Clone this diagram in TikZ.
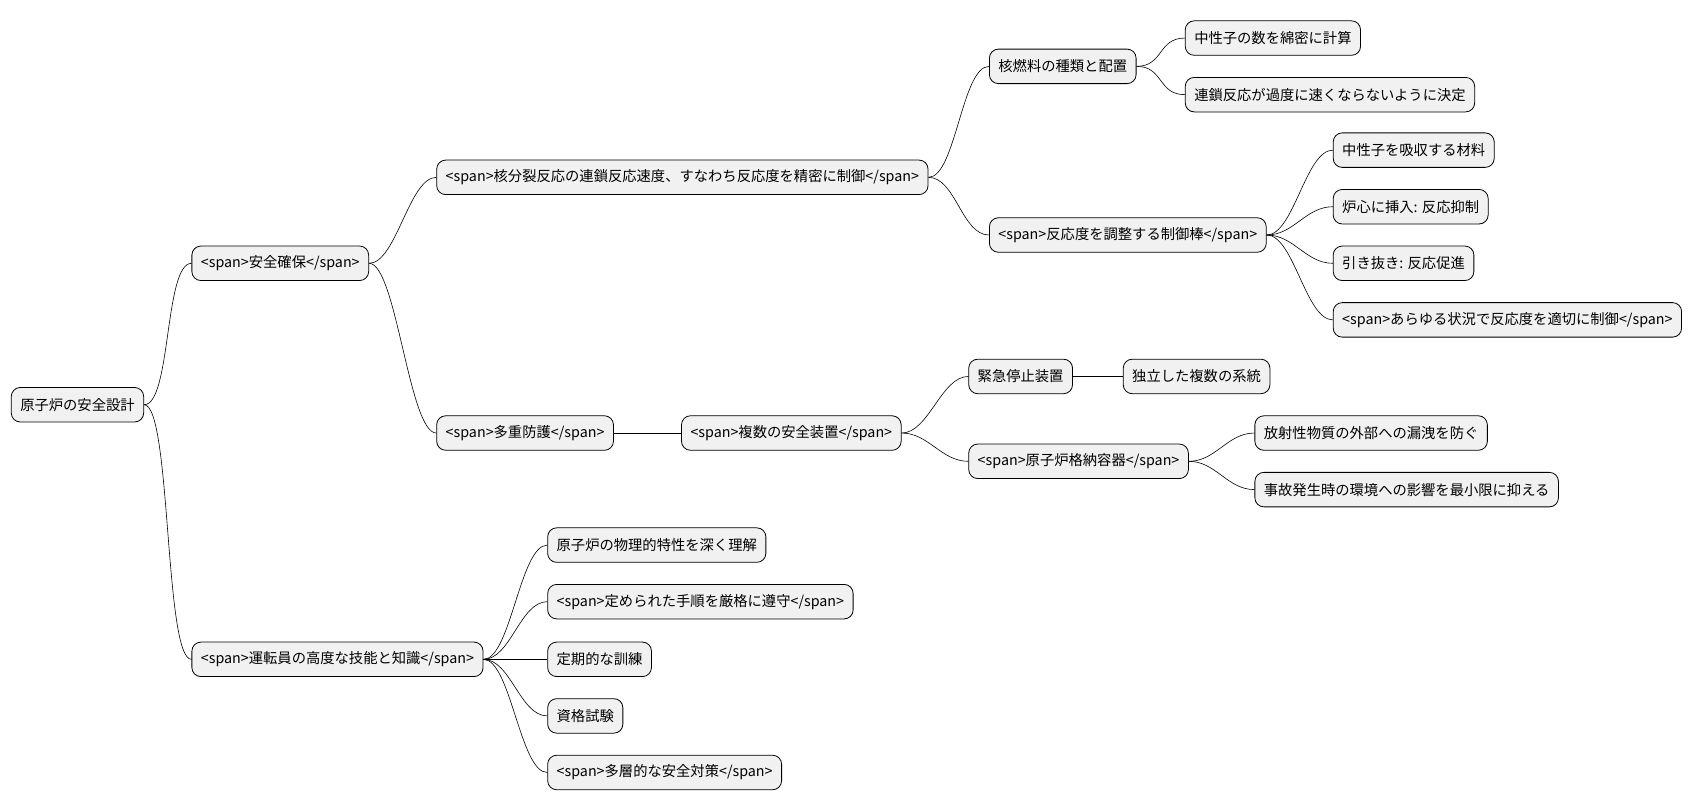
\documentclass[tikz,border=0pt]{standalone}
\usepackage{fontspec}
\setmainfont{Noto Sans CJK JP}
\begin{document}
\begin{tikzpicture}[x=1.088pt,y=-1.088pt,
  box/.style={draw,rounded corners=9pt,fill={rgb,255:red,241;green,241;blue,241},minimum height=34.5pt,inner xsep=9pt,anchor=west,font=\fontsize{14.3}{17}\selectfont,line width=0.8pt},
  ln/.style={line width=0.6pt}]
\useasboundingbox[fill=white] (0,0) rectangle (1568,743.6);
\node[box] (r) at (10,372) {原子炉の安全設計};
\node[box] (a) at (176,242) {<span>安全確保</span>};
\node[box] (b) at (176,606) {<span>運転員の高度な技能と知識</span>};
\node[box] (a1) at (401,163) {<span>核分裂反応の連鎖反応速度、すなわち反応度を精密に制御</span>};
\node[box] (a2) at (401,398) {<span>多重防護</span>};
\node[box] (a21) at (626,398) {<span>複数の安全装置</span>};
\node[box] (a11) at (909,61) {核燃料の種類と配置};
\node[box] (a12) at (909,216) {<span>反応度を調整する制御棒</span>};
\node[box] (a211) at (890,346) {緊急停止装置};
\node[box] (a212) at (890,424) {<span>原子炉格納容器</span>};
\node[box] (a2111) at (1032,346) {独立した複数の系統};
\node[box] (a111) at (1089,35) {中性子の数を綿密に計算};
\node[box] (a112) at (1089,87) {連鎖反応が過度に速くならないように決定};
\node[box] (a121) at (1225,138) {中性子を吸収する材料};
\node[box] (a122) at (1225,190) {炉心に挿入: 反応抑制};
\node[box] (a123) at (1225,242) {引き抜き: 反応促進};
\node[box] (a124) at (1225,294) {<span>あらゆる状況で反応度を適切に制御</span>};
\node[box] (a2121) at (1153,398) {放射性物質の外部への漏洩を防ぐ};
\node[box] (a2122) at (1153,450) {事故発生時の環境への影響を最小限に抑える};
\node[box] (b1) at (503,501) {原子炉の物理的特性を深く理解};
\node[box] (b2) at (503,553) {<span>定められた手順を厳格に遵守</span>};
\node[box] (b3) at (503,606) {定期的な訓練};
\node[box] (b4) at (503,658) {資格試験};
\node[box] (b5) at (503,710) {<span>多層的な安全対策</span>};
\foreach \p/\c in {r/a,r/b,a/a1,a/a2,a2/a21,a1/a11,a1/a12,a21/a211,a21/a212,a211/a2111,a11/a111,a11/a112,a12/a121,a12/a122,a12/a123,a12/a124,a212/a2121,a212/a2122,b/b1,b/b2,b/b3,b/b4,b/b5}
  \draw[ln] (\p.east) .. controls +(25,0) and +(-25,0) .. (\c.west);
\end{tikzpicture}
\end{document}
